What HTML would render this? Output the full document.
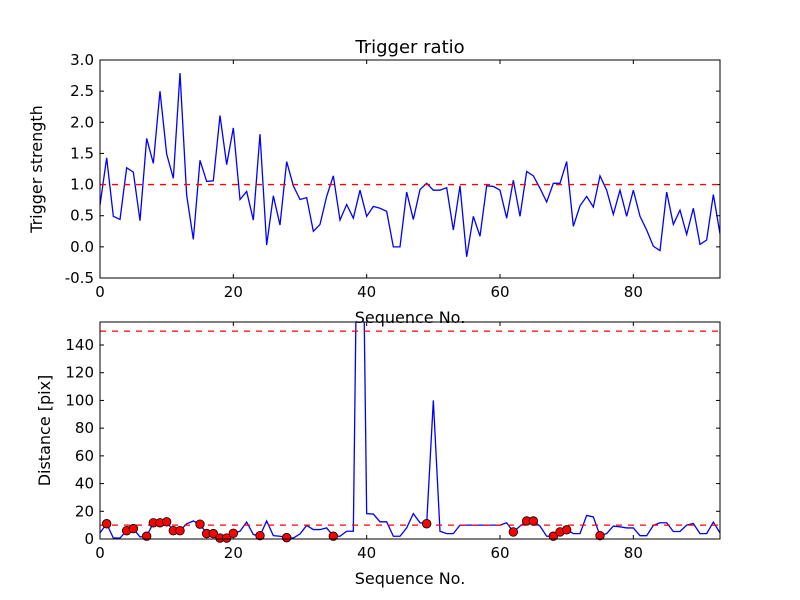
<!DOCTYPE html>
<html><head><meta charset="utf-8"><style>
body{margin:0;background:#fff;}
svg{display:block;font-family:"DejaVu Sans","Liberation Sans",sans-serif;}
</style></head><body>
<svg id="fig" width="800" height="600" viewBox="0 0 800 600">
<rect width="800" height="600" fill="#fff"/>
<g id="top"></g>
<g id="bot"></g>
</svg>
<script>
const strength = [0.67,1.43,0.49,0.44,1.27,1.2,0.42,1.74,1.34,2.5,1.49,1.1,2.79,0.83,0.12,1.39,1.05,1.06,2.11,1.32,1.91,0.76,0.89,0.43,1.81,0.03,0.82,0.35,1.37,0.98,0.76,0.79,0.25,0.36,0.81,1.14,0.43,0.68,0.46,0.91,0.49,0.65,0.62,0.57,0.0,0.0,0.88,0.44,0.92,1.02,0.91,0.91,0.95,0.27,0.98,-0.16,0.49,0.17,0.98,0.97,0.91,0.46,1.07,0.49,1.21,1.14,0.94,0.72,1.02,1.02,1.37,0.33,0.66,0.81,0.64,1.14,0.91,0.52,0.91,0.49,0.91,0.49,0.27,0.01,-0.06,0.88,0.36,0.59,0.2,0.62,0.04,0.11,0.84,0.21];
const distance = [4.4,11,0.7,0.7,6,7.5,1.5,2,11.7,11.7,12.4,6,6,11,13,10.7,3.9,3.9,0.7,0.7,4.1,5.6,12.2,3.2,2.4,13,2.4,2,1,0.7,3.7,9.8,6.8,6.8,8,2,2,5.6,5.6,400,18.3,18,12.4,12.4,2,2,8,18.3,11.7,11,100,5.6,3.9,3.9,10,10,10,10,10,10,10,11.7,5.1,9.3,13,13,9.3,2,2,5.1,6.6,3.9,3.9,17,15.9,2.4,3.9,9.3,8.8,8,8,2.4,2.4,9.8,11.7,11.7,5.4,5.4,10,11.2,3.9,3.9,12.2,4.4];
const markerIdx = [1,4,5,7,8,9,10,11,12,15,16,17,18,19,20,24,28,35,49,62,64,65,68,69,70,75];
const xTicks = [0,20,40,60,80];
const topYTicks = [-0.5,0.0,0.5,1.0,1.5,2.0,2.5,3.0];
const botYTicks = [0,20,40,60,80,100,120,140];
const topThreshold = [1.0];
const botThresholds = [10,150];

const NS="http://www.w3.org/2000/svg";
function mk(parent,tag,attrs){const e=document.createElementNS(NS,tag);for(const k in attrs)e.setAttribute(k,attrs[k]);parent.appendChild(e);return e;}
function panel(g,box,ymin,ymax,yTicks,yFmt,ylabel,ylx){
  const X=v=>box.l+(v-0)/(93-0)*(box.r-box.l);
  const Y=v=>box.b-(v-ymin)/(ymax-ymin)*(box.b-box.t);
  const cid='clip'+Math.round(box.t);
  const cp=mk(g,'clipPath',{id:cid});mk(cp,'rect',{x:box.l,y:box.t,width:box.r-box.l,height:box.b-box.t});
  for(const t of xTicks){const x=X(t);
    const tl=mk(g,'line',{x1:x,x2:x,y1:box.b,y2:box.b-4,stroke:'#000'});
    
    mk(g,'line',{x1:x,x2:x,y1:box.t,y2:box.t+4,stroke:'#000'});
    const tx=mk(g,'text',{x:x,y:box.b+19,'font-size':15,'text-anchor':'middle'});tx.textContent=t;
    }
  for(const t of yTicks){const y=Y(t);
    mk(g,'line',{x1:box.l,x2:box.l+4,y1:y,y2:y,stroke:'#000'});
    mk(g,'line',{x1:box.r,x2:box.r-4,y1:y,y2:y,stroke:'#000'});
    const tx=mk(g,'text',{x:box.l-6,y:y+5,'font-size':15,'text-anchor':'end'});tx.textContent=yFmt(t);
    }
  const xl=mk(g,'text',{x:(box.l+box.r)/2,y:box.b+45,'font-size':16,'text-anchor':'middle'});xl.textContent='Sequence No.';
  
  const yc=(box.t+box.b)/2;
  const yl=mk(g,'text',{x:ylx,y:yc,'font-size':16,'text-anchor':'middle',transform:`rotate(-90 ${ylx} ${yc})`});yl.textContent=ylabel;
  
  return {X,Y,cid};
}
const gt=document.getElementById('top');
const T=panel(gt,{l:100,r:720,t:60,b:278},-0.5,3.0,topYTicks,v=>v.toFixed(1),'Trigger strength',42);
const cg=mk(gt,'g',{'clip-path':`url(#${T.cid})`});
const pl=mk(cg,'polyline',{points:strength.map((v,i)=>T.X(i)+','+T.Y(v)).join(' '),fill:'none',stroke:'#0000ff','stroke-width':1.3});

for(const v of topThreshold){const l=mk(cg,'line',{x1:100,x2:720,y1:T.Y(v),y2:T.Y(v),stroke:'#ff0000','stroke-width':1.3,'stroke-dasharray':'6,6'});
  }
mk(gt,'rect',{x:100,y:60,width:620,height:218,fill:'none',stroke:'#000'});
const title=mk(gt,'text',{x:410,y:53,'font-size':18,'text-anchor':'middle'});title.textContent='Trigger ratio';

const gb=document.getElementById('bot');
const B=panel(gb,{l:100,r:720,t:322,b:539},0,156.6,botYTicks,v=>String(v),'Distance [pix]',50);
const cb=mk(gb,'g',{'clip-path':`url(#${B.cid})`});
const pl2=mk(cb,'polyline',{points:distance.map((v,i)=>B.X(i)+','+B.Y(v)).join(' '),fill:'none',stroke:'#0000ff','stroke-width':1.3});

for(const v of botThresholds){const l=mk(cb,'line',{x1:100,x2:720,y1:B.Y(v),y2:B.Y(v),stroke:'#ff0000','stroke-width':1.3,'stroke-dasharray':'6,6'});
  }
for(const i of markerIdx){const c=mk(gb,'circle',{cx:B.X(i),cy:B.Y(distance[i]),r:4.3,fill:'#ff0000',stroke:'#000','stroke-width':0.8});
  }
mk(gb,'rect',{x:100,y:322,width:620,height:217,fill:'none',stroke:'#000'});
</script>
</body></html>
